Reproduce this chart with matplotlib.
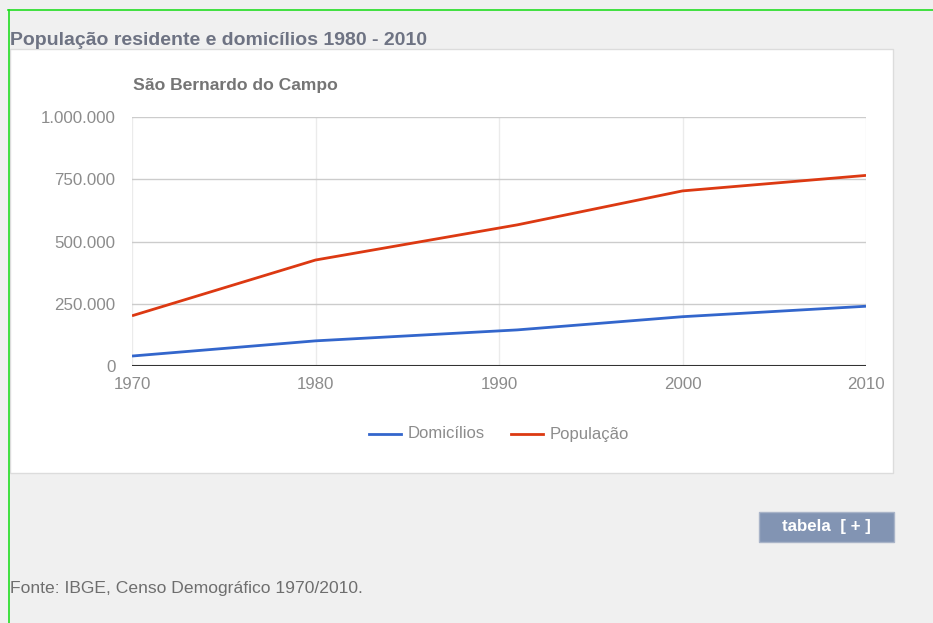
import matplotlib
matplotlib.use("Agg")
import matplotlib.pyplot as plt
from matplotlib.patches import Rectangle
from matplotlib.lines import Line2D
from matplotlib.ticker import FuncFormatter

plt.rcParams['font.family'] = ['Liberation Sans', 'DejaVu Sans']

years_pop = [1970, 1980, 1991, 2000, 2010]
populacao = [201662, 425602, 566893, 703177, 765463]
domicilios = [40000, 101000, 145000, 198000, 240000]
x_ticks = [1970, 1980, 1990, 2000, 2010]
y_ticks = [0, 250000, 500000, 750000, 1000000]

W, H = 933, 623
fig = plt.figure(figsize=(W / 100, H / 100), dpi=100)
fig.patch.set_facecolor('#f0f0f0')

def fx(px):
    return px / W

def fy(py):
    return 1 - py / H

# green frame lines
fig.add_artist(Line2D([fx(8), fx(933)], [fy(10), fy(10)], color='#22dd22', lw=1.2))
fig.add_artist(Line2D([fx(8.5), fx(8.5)], [fy(10), fy(623)], color='#22dd22', lw=1.2))

# white panel
fig.add_artist(Rectangle((fx(10), fy(473)), fx(893 - 10), (473 - 49) / H,
                         facecolor='white', edgecolor='#dcdcdc', lw=1, zorder=0))

fig.text(fx(10), fy(45), 'População residente e domicílios 1980 - 2010',
         fontsize=14, fontweight='bold', color='#6e7383', va='baseline', ha='left')
fig.text(fx(133), fy(90), 'São Bernardo do Campo',
         fontsize=12.6, fontweight='bold', color='#757575', va='baseline', ha='left')

ax = fig.add_axes([fx(132), fy(366), fx(866 - 132), (366 - 117) / H])
ax.set_facecolor('white')
ax.plot(years_pop, domicilios, color='#3366cc', lw=2, solid_capstyle='butt', zorder=3)
ax.plot(years_pop, populacao, color='#dc3912', lw=2, solid_capstyle='butt', zorder=3)

ax.set_xlim(1970, 2010)
ax.set_ylim(0, 1000000)
ax.set_xticks(x_ticks)
ax.set_yticks(y_ticks)
ax.yaxis.set_major_formatter(FuncFormatter(lambda v, p: f'{int(v):,}'.replace(',', '.')))
for s in ax.spines.values():
    s.set_visible(False)
ax.axhline(0, color='#333333', lw=1.5, zorder=4)
for yv in y_ticks[1:]:
    ax.axhline(yv, color='#cccccc', lw=1, zorder=1)
for xv in x_ticks:
    ax.axvline(xv, color='#ebebeb', lw=1, zorder=0.5)
ax.tick_params(axis='both', length=0, labelsize=12.2, labelcolor='#8c8c8c')
ax.tick_params(axis='y', pad=12)
ax.tick_params(axis='x', pad=8)

# legend
ly = fy(434)
fig.add_artist(Line2D([fx(369), fx(401)], [ly, ly], color='#3366cc', lw=2))
fig.text(fx(408), ly, 'Domicílios', fontsize=12, color='#8c8c8c', va='center', ha='left')
fig.add_artist(Line2D([fx(511), fx(543)], [ly, ly], color='#dc3912', lw=2))
fig.text(fx(550), ly, 'População', fontsize=12, color='#8c8c8c', va='center', ha='left')

# button
fig.add_artist(Rectangle((fx(759), fy(542)), fx(894 - 759), (542 - 512) / H,
                         facecolor='#8294b3', edgecolor='#a9b4c8', lw=1))
fig.text(fx(826.5), fy(527), 'tabela  [ + ]', fontsize=12.2, fontweight='bold',
         color='white', va='center', ha='center')

fig.text(fx(10), fy(588), 'Fonte: IBGE, Censo Demográfico 1970/2010.',
         fontsize=12.6, color='#6e6e6e', va='center', ha='left')

fig.savefig('out.png', dpi=100, facecolor=fig.get_facecolor())
